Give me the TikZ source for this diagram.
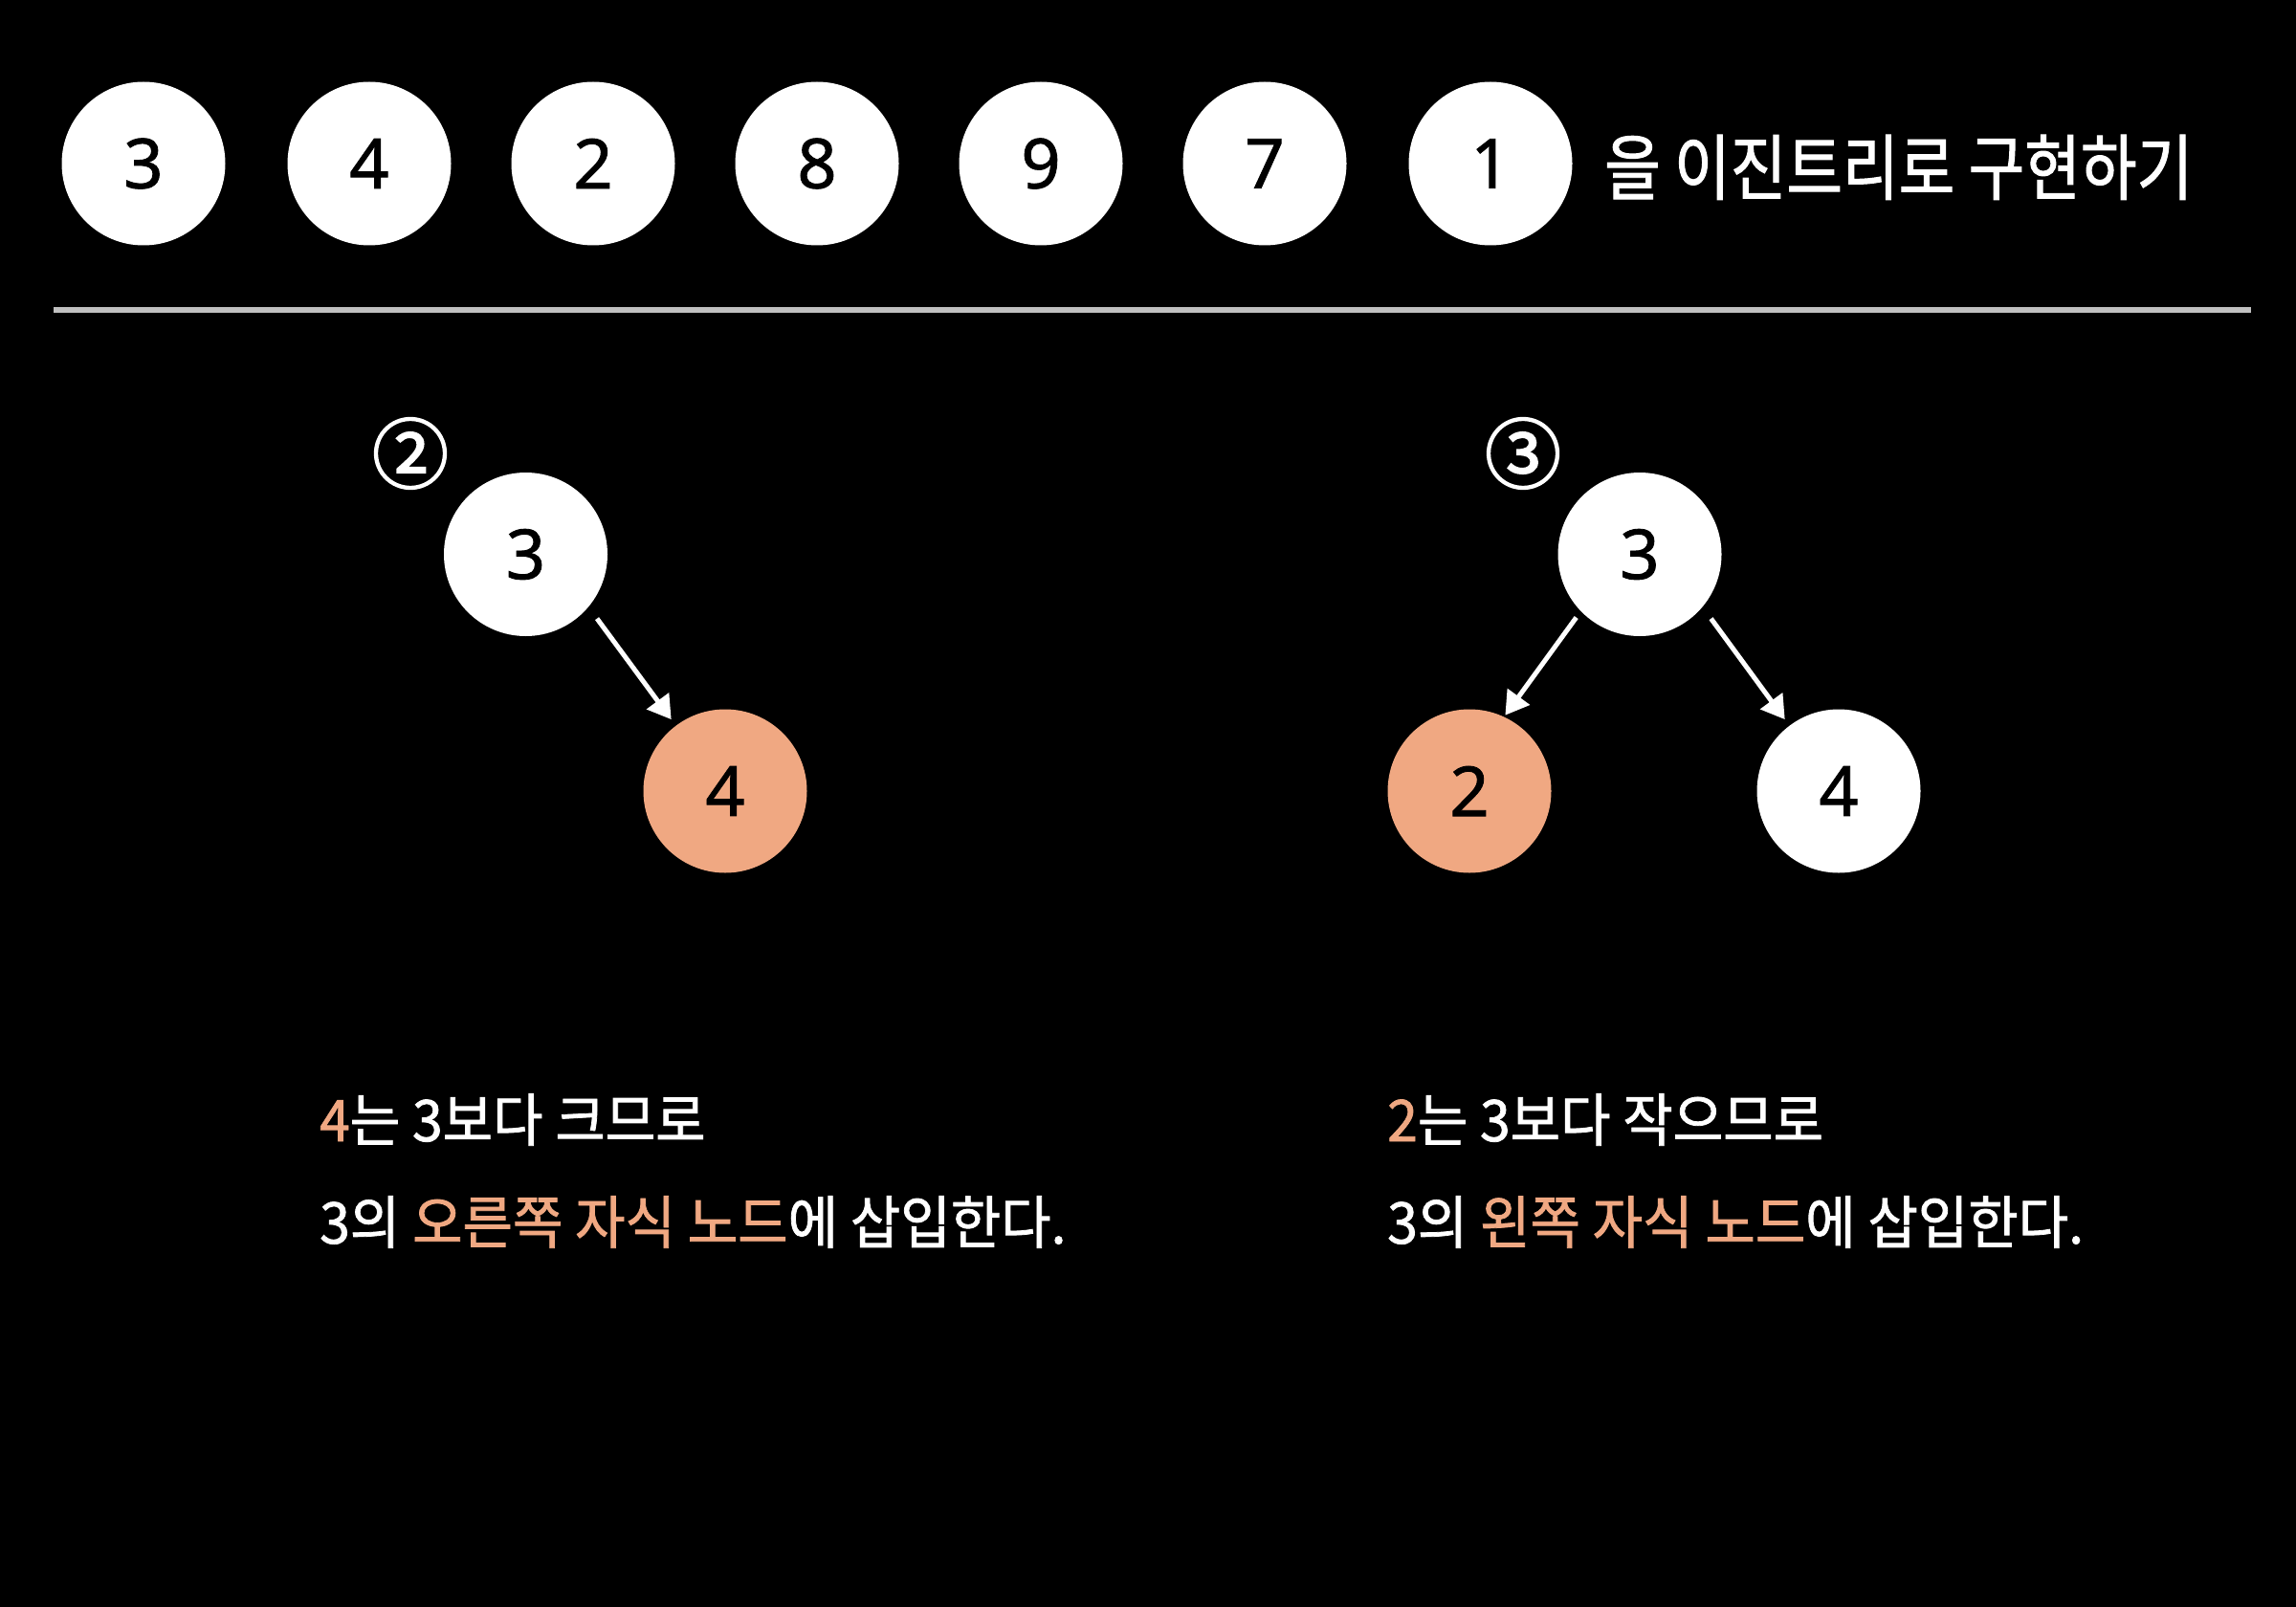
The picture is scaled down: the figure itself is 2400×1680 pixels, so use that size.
\documentclass[tikz,border=0pt]{standalone}
\usepackage{fontspec}
\setmainfont{Noto Sans}
\newfontfamily\digitfont[FakeBold=1.2]{Noto Sans}
\newfontfamily\krbody[FakeStretch=0.95,FakeBold=1.3]{Noto Sans CJK KR}
\newfontfamily\krtitle[FakeStretch=0.85,FakeBold=1.3]{Noto Sans CJK KR}
\newfontfamily\krcirc[FakeBold=2.2]{Noto Sans CJK KR}
\usetikzlibrary{arrows.meta}
\definecolor{peach}{RGB}{240,168,130}
\definecolor{rulegray}{RGB}{192,192,192}
\begin{document}
\begin{tikzpicture}[x=1pt,y=-1pt,
  ball/.style={circle, fill=white, minimum size=171pt, inner sep=0pt, text=black, font=\digitfont\fontsize{72}{72}\selectfont},
  hot/.style={ball, fill=peach},
  link/.style={draw=white, line width=5pt, -{Triangle[length=24pt,width=28pt]}},
  body/.style={anchor=base west, text=white, inner sep=0pt, font=\krbody\fontsize{60}{60}\selectfont},
  stepno/.style={text=white, inner sep=0pt, font=\krcirc\fontsize{80}{80}\selectfont},
]
\fill[black] (0,0) rectangle (2400,1680);
\useasboundingbox (0,0) rectangle (2400,1680);

% input sequence
\node[ball] (s1) at (150,171) {3};
\node[ball] (s2) at (386,171) {4};
\node[ball] (s3) at (620,171) {2};
\node[ball] (s4) at (854,171) {8};
\node[ball] (s5) at (1088,171) {9};
\node[ball] (s6) at (1322,171) {7};
\node[ball] (s7) at (1558,171) {1};
\node[anchor=base west, text=white, inner sep=0pt, font=\krtitle\fontsize{75}{75}\selectfont] (title) at (1677,203) {을 이진트리로 구현하기};

% divider
\coordinate (rl) at (56,324);
\coordinate (rr) at (2353,324);
\draw[rulegray, line width=6pt] (rl) -- (rr);

% step 2
\node[stepno] (n2) at (429,474) {②};
\node[ball] (a3) at (549.5,579.5) {3};
\node[hot] (a4) at (758,827) {4};
\draw[link, shorten <=15pt, shorten >=8pt] (a3.-40) -- (a4.127);

% step 3
\node[stepno] (n3) at (1592,474) {③};
\node[ball] (b3) at (1714,579.5) {3};
\node[hot] (b2) at (1536,827) {2};
\node[ball] (b4) at (1922,827) {4};
\draw[link, shorten <=8pt, shorten >=2pt] (b3.-136) -- (b2.65);
\draw[link, shorten <=15pt, shorten >=8pt] (b3.-40) -- (b4.127);

% captions
\node[body] (l1) at (334,1193) {{\color{peach}4}는 3보다 크므로};
\node[body] (l2) at (334,1300) {3의 {\color{peach}오른쪽 자식 노드}에 삽입한다.};
\node[body] (r1) at (1450,1193) {{\color{peach}2}는 3보다 작으므로};
\node[body] (r2) at (1450,1300) {3의 {\color{peach}왼쪽 자식 노드}에 삽입한다.};
\end{tikzpicture}
\end{document}
